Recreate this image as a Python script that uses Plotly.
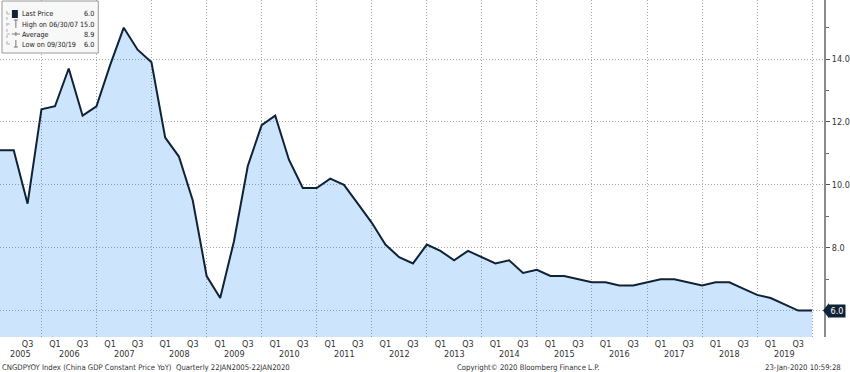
import plotly.graph_objects as go
import pandas as pd

# ---------------- data ----------------
quarter_ends = [d.strftime("%Y-%m-%d") for d in pd.date_range("2005-03-31", "2019-12-31", freq="QE")]
gdp_yoy = [11.1, 11.1, 9.4, 12.4, 12.5, 13.7, 12.2, 12.5, 13.8, 15.0,
           14.3, 13.9, 11.5, 10.9, 9.5, 7.1, 6.4, 8.2, 10.6, 11.9,
           12.2, 10.8, 9.9, 9.9, 10.2, 10.0, 9.4, 8.8, 8.1, 7.7,
           7.5, 8.1, 7.9, 7.6, 7.9, 7.7, 7.5, 7.6, 7.2, 7.3,
           7.1, 7.1, 7.0, 6.9, 6.9, 6.8, 6.8, 6.9, 7.0, 7.0,
           6.9, 6.8, 6.9, 6.9, 6.7, 6.5, 6.4, 6.2, 6.0, 6.0]
years = list(range(2005, 2020))
legend_labels = ["Last Price", "High on 06/30/07", "Average", "Low on 09/30/19"]
legend_values = ["6.0", "15.0", "8.9", "6.0"]
y_ticks = [6, 8, 10, 12, 14]
footer_left = "CNGDPYOY Index (China GDP Constant Price YoY)  Quarterly 22JAN2005-22JAN2020"
footer_mid = "Copyright\u00a9 2020 Bloomberg Finance L.P."
footer_right = "23-Jan-2020 10:59:28"

# ---------------- layout helpers ----------------
W, H = 850, 372
ML, MR, MT, MB = 0, 20, 0, 35
PW, PH = W - ML - MR, H - MT - MB
def px(x):
    return (x - ML) / PW
def py(y):
    return 1 - (y - MT) / PH

FONT = "DejaVu Sans Condensed, DejaVu Sans, sans-serif"
TXT = "#333333"
NAVY = "#0f2236"
GRID = "#a6a6a6"
GDASH = "1px,2px"

x_start = pd.Timestamp(quarter_ends[0])
x_end = x_start + (pd.Timestamp(quarter_ends[-1]) - x_start) * (830 / 818)
x_range = [x_start.strftime("%Y-%m-%d %H:%M"), x_end.strftime("%Y-%m-%d %H:%M")]

q_vals, q_text = [], []
for y in years:
    for m, lab in (("03-31", "Q1"), ("09-30", "Q3")):
        d = pd.Timestamp(f"{y}-{m}")
        if x_start <= d <= x_end:
            q_vals.append(d.strftime("%Y-%m-%d"))
            q_text.append(lab)
year_ends = [f"{y}-12-31" for y in years]

fig = go.Figure()
# helper (invisible) trace so the year-end grid axis is drawn
fig.add_trace(go.Scatter(x=year_ends, y=[None] * len(year_ends), xaxis="x2", yaxis="y",
                         mode="lines", showlegend=False, hoverinfo="skip"))
fig.add_trace(go.Scatter(
    x=quarter_ends, y=gdp_yoy, mode="lines",
    line=dict(color=NAVY, width=2),
    fill="tozeroy", fillcolor="rgba(23,137,246,0.22)",
    hoverinfo="x+y", showlegend=False,
))

fig.update_layout(
    width=W, height=H,
    margin=dict(l=ML, r=MR, t=MT, b=MB),
    paper_bgcolor="white", plot_bgcolor="white",
    font=dict(family=FONT, size=9, color=TXT),
    showlegend=False,
    xaxis=dict(
        type="date", range=x_range,
        tickmode="array", tickvals=q_vals, ticktext=q_text,
        ticks="", showgrid=False, showline=False, zeroline=False,
        tickfont=dict(size=9, color=TXT),
    ),
    xaxis2=dict(
        type="date", range=x_range, overlaying="x", side="bottom",
        tickmode="array", tickvals=year_ends, showticklabels=False, ticks="",
        showgrid=True, gridcolor=GRID, griddash=GDASH, gridwidth=1,
        showline=False, zeroline=False,
    ),
    yaxis=dict(
        side="right", range=[5.16, 15.88],
        tickmode="array", tickvals=y_ticks, tickformat=".1f",
        showgrid=True, gridcolor=GRID, griddash=GDASH, gridwidth=1,
        zeroline=False, showline=True, linecolor="#8a8a8a", linewidth=2,
        ticks="outside", ticklen=4, tickcolor="#555555", tickwidth=1,
        tickfont=dict(size=9, color=TXT),
        minor=dict(dtick=1, tick0=5, ticks="outside", ticklen=3,
                   tickcolor="#666666", showgrid=False),
    ),
)

shapes = []
annotations = []

# year labels under the quarter labels
for y in years:
    a = max(pd.Timestamp(f"{y}-01-01"), x_start)
    b = pd.Timestamp(f"{y}-12-31")
    mid = a + (b - a) / 2
    annotations.append(dict(x=mid.strftime("%Y-%m-%d %H:%M"), y=py(354), xref="x", yref="paper",
                            text=str(y), showarrow=False, yanchor="middle",
                            font=dict(size=9, color=TXT)))

# last price tag
last = gdp_yoy[-1]
shapes.append(dict(type="path", xref="paper", yref="y",
                   path=f"M {px(829)} {last} L {px(835)} {last + 0.24} L {px(835)} {last - 0.24} Z",
                   fillcolor=NAVY, line=dict(width=0), layer="above"))
annotations.append(dict(x=px(834), y=last, xref="paper", yref="y",
                        text=f"{last:.1f}", showarrow=False, xanchor="left", yanchor="middle",
                        bgcolor=NAVY, font=dict(size=9, color="white"),
                        borderpad=1, width=14))

# legend box
shapes.append(dict(type="rect", xref="paper", yref="paper",
                   x0=px(2), x1=px(99), y0=py(53), y1=py(1),
                   fillcolor="#f8f8f8", line=dict(color="#9a9a9a", width=1), layer="above"))
# tree line
shapes.append(dict(type="line", xref="paper", yref="paper", x0=px(7), x1=px(7), y0=py(11), y1=py(45),
                   line=dict(color="#b0b0b0", width=1, dash="dot"), layer="above"))
for yy in (14, 24, 34, 44):
    shapes.append(dict(type="line", xref="paper", yref="paper", x0=px(7), x1=px(11), y0=py(yy), y1=py(yy),
                       line=dict(color="#b0b0b0", width=1, dash="dot"), layer="above"))
# icons
shapes.append(dict(type="rect", xref="paper", yref="paper", x0=px(12), x1=px(18), y0=py(18), y1=py(10),
                   fillcolor=NAVY, line=dict(width=0), layer="above"))
g = "#777777"
for x0, x1, y0, y1 in [(16, 16, 20, 28), (14, 18, 20, 20),
                       (12, 20, 34, 34), (16, 16, 32, 36),
                       (16, 16, 40, 47), (14, 18, 47, 47)]:
    shapes.append(dict(type="line", xref="paper", yref="paper", x0=px(x0), x1=px(x1), y0=py(y0), y1=py(y1),
                       line=dict(color=g, width=1), layer="above"))
for i, (lab, val) in enumerate(zip(legend_labels, legend_values)):
    yy = py(14 + 10 * i)
    annotations.append(dict(x=px(20), y=yy, xref="paper", yref="paper", text=lab, showarrow=False,
                            xanchor="left", yanchor="middle", font=dict(size=7.2, color="#222222")))
    annotations.append(dict(x=px(97), y=yy, xref="paper", yref="paper", text=val, showarrow=False,
                            xanchor="right", yanchor="middle", font=dict(size=7.2, color="#222222")))

# footer
annotations.append(dict(x=px(0), y=py(367), xref="paper", yref="paper", text=footer_left, showarrow=False,
                        xanchor="left", yanchor="middle", font=dict(size=7.7, color=TXT)))
annotations.append(dict(x=px(458), y=py(367), xref="paper", yref="paper", text=footer_mid, showarrow=False,
                        xanchor="left", yanchor="middle", font=dict(size=7.7, color=TXT)))
annotations.append(dict(x=px(849), y=py(367), xref="paper", yref="paper", text=footer_right, showarrow=False,
                        xanchor="right", yanchor="middle", font=dict(size=7.7, color=TXT)))

fig.update_layout(shapes=shapes, annotations=annotations)
fig.write_html("out.html")
